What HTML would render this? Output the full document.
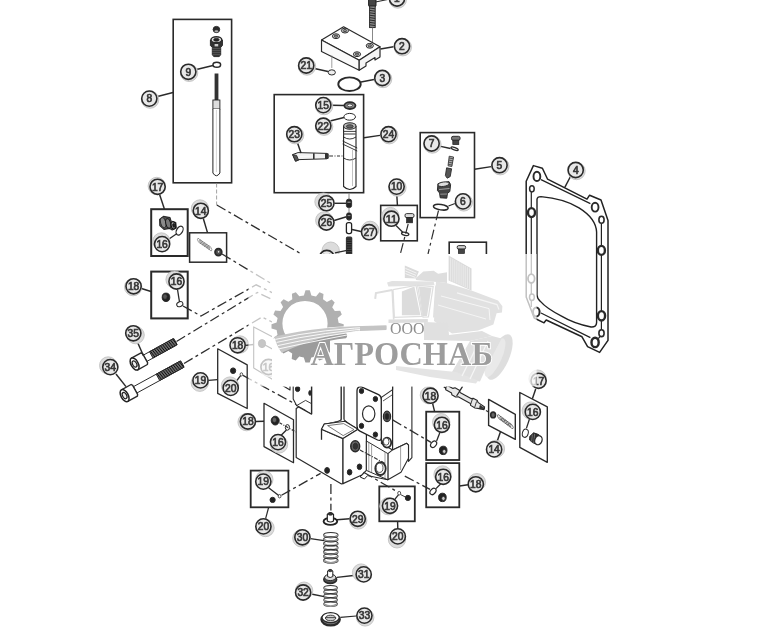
<!DOCTYPE html>
<html><head><meta charset="utf-8"><title>diagram</title>
<style>
html,body{margin:0;padding:0;background:#fff;}
body{width:781px;height:641px;overflow:hidden;font-family:"Liberation Sans",sans-serif;}
svg{display:block;}
text{font-family:"Liberation Sans",sans-serif;}
.wm{font-family:"Liberation Serif",serif;}
</style></head><body>
<svg width="781" height="641" viewBox="0 0 781 641">
<defs><filter id="bl" x="-5%" y="-5%" width="110%" height="110%"><feGaussianBlur stdDeviation="0.45"/></filter></defs>
<rect width="781" height="641" fill="#fff"/>
<g filter="url(#bl)">
<rect x="368.6" y="-2" width="7.4" height="8.4" rx="1" fill="#444" stroke="#222" stroke-width="1"/>
<rect x="369.6" y="6" width="5.6" height="21.6" fill="#888" stroke="#222" stroke-width="0.9"/>
<line x1="369.6" y1="8.0" x2="375.2" y2="8.8" stroke="#2a2a2a" stroke-width="1.0" />
<line x1="369.6" y1="10.4" x2="375.2" y2="11.2" stroke="#2a2a2a" stroke-width="1.0" />
<line x1="369.6" y1="12.8" x2="375.2" y2="13.6" stroke="#2a2a2a" stroke-width="1.0" />
<line x1="369.6" y1="15.2" x2="375.2" y2="16.0" stroke="#2a2a2a" stroke-width="1.0" />
<line x1="369.6" y1="17.6" x2="375.2" y2="18.4" stroke="#2a2a2a" stroke-width="1.0" />
<line x1="369.6" y1="20.0" x2="375.2" y2="20.8" stroke="#2a2a2a" stroke-width="1.0" />
<line x1="369.6" y1="22.4" x2="375.2" y2="23.2" stroke="#2a2a2a" stroke-width="1.0" />
<line x1="369.6" y1="24.8" x2="375.2" y2="25.6" stroke="#2a2a2a" stroke-width="1.0" />
<line x1="375.5" y1="2.0" x2="390.0" y2="-1.0" stroke="#2a2a2a" stroke-width="1.1" />
<line x1="372.5" y1="27.0" x2="372.5" y2="44.0" stroke="#555" stroke-width="0.7" />
<g><circle cx="397.8" cy="-0.5" r="8.7" fill="#dcdcdc" stroke="#bdbdbd" stroke-width="0.8"/><circle cx="397.0" cy="-1.5" r="7.6" fill="#e8e8e8" stroke="#2b2b2b" stroke-width="1.6"/><text x="394.1" y="2.3" font-size="10.6" fill="#383838" stroke="#383838" stroke-width="0.7" textLength="5.7" lengthAdjust="spacingAndGlyphs">1</text></g>
<path d="M321.5,40.0 L343.6,26.8 L380.0,46.8 L359.2,60.2 Z" fill="#fff" stroke="#2a2a2a" stroke-width="1.2" stroke-linejoin="round" />
<path d="M321.5,40.0 L359.2,60.2 L359.2,70.2 L321.5,51.5 Z" fill="#fafafa" stroke="#2a2a2a" stroke-width="1.2" stroke-linejoin="round" />
<path d="M359.2,60.2 L380.0,46.8 L380.0,57.0 L375.0,60.0 L375.0,57.5 L366.0,63.0 L366.0,66.0 L359.2,70.2 Z" fill="#f4f4f4" stroke="#2a2a2a" stroke-width="1.2" stroke-linejoin="round" />
<ellipse cx="336.0" cy="36.2" rx="3.6" ry="2.4" fill="#ddd" stroke="#2a2a2a" stroke-width="1.0"/>
<ellipse cx="336.0" cy="36.2" rx="1.8" ry="1.1" fill="#999" stroke="#2a2a2a" stroke-width="0.8"/>
<ellipse cx="345.0" cy="30.6" rx="3.6" ry="2.4" fill="#ddd" stroke="#2a2a2a" stroke-width="1.0"/>
<ellipse cx="345.0" cy="30.6" rx="1.8" ry="1.1" fill="#999" stroke="#2a2a2a" stroke-width="0.8"/>
<ellipse cx="369.8" cy="45.8" rx="3.6" ry="2.4" fill="#ddd" stroke="#2a2a2a" stroke-width="1.0"/>
<ellipse cx="369.8" cy="45.8" rx="1.8" ry="1.1" fill="#999" stroke="#2a2a2a" stroke-width="0.8"/>
<ellipse cx="357.0" cy="54.2" rx="3.6" ry="2.4" fill="#ddd" stroke="#2a2a2a" stroke-width="1.0"/>
<ellipse cx="357.0" cy="54.2" rx="1.8" ry="1.1" fill="#999" stroke="#2a2a2a" stroke-width="0.8"/>
<line x1="380.5" y1="49.0" x2="393.5" y2="46.8" stroke="#2a2a2a" stroke-width="1.45" />
<g><circle cx="402.8" cy="47.2" r="8.7" fill="#dcdcdc" stroke="#bdbdbd" stroke-width="0.8"/><circle cx="402.0" cy="46.2" r="7.6" fill="#e8e8e8" stroke="#2b2b2b" stroke-width="1.6"/><text x="399.1" y="50.0" font-size="10.6" fill="#383838" stroke="#383838" stroke-width="0.7" textLength="5.7" lengthAdjust="spacingAndGlyphs">2</text></g>
<line x1="331.8" y1="55.5" x2="331.8" y2="68.0" stroke="#777" stroke-width="0.7" />
<ellipse cx="331.8" cy="72.4" rx="3.6" ry="2.6" fill="#eee" stroke="#2a2a2a" stroke-width="1.0"/>
<line x1="314.5" y1="68.5" x2="328.0" y2="71.5" stroke="#2a2a2a" stroke-width="1.45" />
<g><circle cx="307.0" cy="66.5" r="8.7" fill="#dcdcdc" stroke="#bdbdbd" stroke-width="0.8"/><circle cx="306.2" cy="65.5" r="7.6" fill="#e8e8e8" stroke="#2b2b2b" stroke-width="1.6"/><text x="300.5" y="69.3" font-size="10.6" fill="#383838" stroke="#383838" stroke-width="0.7" textLength="11.4" lengthAdjust="spacingAndGlyphs">21</text></g>
<ellipse cx="349.5" cy="84.2" rx="11.2" ry="6.8" fill="none" stroke="#2a2a2a" stroke-width="1.9"/>
<line x1="361.0" y1="82.0" x2="374.0" y2="79.5" stroke="#2a2a2a" stroke-width="1.45" />
<g><circle cx="383.1" cy="79.0" r="8.7" fill="#dcdcdc" stroke="#bdbdbd" stroke-width="0.8"/><circle cx="382.3" cy="78.0" r="7.6" fill="#e8e8e8" stroke="#2b2b2b" stroke-width="1.6"/><text x="379.4" y="81.8" font-size="10.6" fill="#383838" stroke="#383838" stroke-width="0.7" textLength="5.7" lengthAdjust="spacingAndGlyphs">3</text></g>
<rect x="173.2" y="19.4" width="58.4" height="163.4" fill="none" stroke="#2a2a2a" stroke-width="1.6"/>
<ellipse cx="216.4" cy="29.5" rx="3.3" ry="3.1" fill="#2a2a2a" stroke="#2a2a2a" stroke-width="1.0"/>
<ellipse cx="216.4" cy="31.2" rx="1.8" ry="0.9" fill="#bbb" stroke="#888" stroke-width="0.5"/>
<path d="M210.4,40.0 L210.4,45.6 L212.3,47.2 L212.3,55.0 L214.0,56.6 L219.0,56.6 L220.7,55.0 L220.7,47.2 L222.4,45.6 L222.4,40.0 Z" fill="#333" stroke="#2a2a2a" stroke-width="1.0" stroke-linejoin="round" />
<ellipse cx="216.4" cy="39.8" rx="5.4" ry="3" fill="#ddd" stroke="#2a2a2a" stroke-width="1.4"/>
<ellipse cx="216.4" cy="39.8" rx="2.8" ry="1.5" fill="#222" stroke="#2a2a2a" stroke-width="0.8"/>
<rect x="214.6" y="44" width="3.6" height="2.4" fill="#ccc"/>
<line x1="212.3" y1="48.6" x2="220.7" y2="48.6" stroke="#777" stroke-width="0.5" />
<line x1="212.3" y1="50.6" x2="220.7" y2="50.6" stroke="#777" stroke-width="0.5" />
<line x1="212.3" y1="52.6" x2="220.7" y2="52.6" stroke="#777" stroke-width="0.5" />
<line x1="212.3" y1="54.6" x2="220.7" y2="54.6" stroke="#777" stroke-width="0.5" />
<ellipse cx="216.8" cy="64.7" rx="3.8" ry="2.5" fill="none" stroke="#2a2a2a" stroke-width="1.5"/>
<line x1="196.5" y1="69.5" x2="213.0" y2="65.5" stroke="#2a2a2a" stroke-width="1.45" />
<g><circle cx="189.1" cy="72.8" r="8.7" fill="#dcdcdc" stroke="#bdbdbd" stroke-width="0.8"/><circle cx="188.3" cy="71.8" r="7.6" fill="#e8e8e8" stroke="#2b2b2b" stroke-width="1.6"/><text x="185.5" y="75.6" font-size="10.6" fill="#383838" stroke="#383838" stroke-width="0.7" textLength="5.7" lengthAdjust="spacingAndGlyphs">9</text></g>
<rect x="214.6" y="73.5" width="3.8" height="27" fill="#333"/>
<rect x="212.9" y="100" width="7" height="9" fill="#ddd" stroke="#222" stroke-width="0.9"/>
<path d="M212.9,109 L212.9,173 Q216.4,178.5 219.9,173 L219.9,109" fill="#fff" stroke="#222" stroke-width="1"/>
<line x1="216.4" y1="110.0" x2="216.4" y2="172.0" stroke="#aaa" stroke-width="0.5" />
<line x1="157.5" y1="96.5" x2="173.0" y2="92.5" stroke="#2a2a2a" stroke-width="1.45" />
<g><circle cx="150.1" cy="99.6" r="8.7" fill="#dcdcdc" stroke="#bdbdbd" stroke-width="0.8"/><circle cx="149.3" cy="98.6" r="7.6" fill="#e8e8e8" stroke="#2b2b2b" stroke-width="1.6"/><text x="146.5" y="102.4" font-size="10.6" fill="#383838" stroke="#383838" stroke-width="0.7" textLength="5.7" lengthAdjust="spacingAndGlyphs">8</text></g>
<rect x="274.2" y="94.6" width="89.4" height="98.1" fill="none" stroke="#2a2a2a" stroke-width="1.6"/>
<ellipse cx="349.9" cy="105.6" rx="5.6" ry="3.4" fill="#888" stroke="#2a2a2a" stroke-width="1.8"/>
<ellipse cx="349.9" cy="105.4" rx="2.6" ry="1.5" fill="#eee" stroke="#2a2a2a" stroke-width="0.8"/>
<line x1="331.5" y1="105.2" x2="344.0" y2="105.5" stroke="#2a2a2a" stroke-width="1.45" />
<g><circle cx="324.1" cy="106.1" r="8.7" fill="#dcdcdc" stroke="#bdbdbd" stroke-width="0.8"/><circle cx="323.3" cy="105.1" r="7.6" fill="#e8e8e8" stroke="#2b2b2b" stroke-width="1.6"/><text x="317.6" y="108.9" font-size="10.6" fill="#383838" stroke="#383838" stroke-width="0.7" textLength="11.4" lengthAdjust="spacingAndGlyphs">15</text></g>
<ellipse cx="349.7" cy="116.8" rx="5.8" ry="3.4" fill="none" stroke="#2a2a2a" stroke-width="1.0"/>
<line x1="330.0" y1="121.0" x2="344.0" y2="117.5" stroke="#2a2a2a" stroke-width="1.3" />
<g><circle cx="324.1" cy="126.7" r="8.7" fill="#dcdcdc" stroke="#bdbdbd" stroke-width="0.8"/><circle cx="323.3" cy="125.7" r="7.6" fill="#e8e8e8" stroke="#2b2b2b" stroke-width="1.6"/><text x="317.6" y="129.5" font-size="10.6" fill="#383838" stroke="#383838" stroke-width="0.7" textLength="11.4" lengthAdjust="spacingAndGlyphs">22</text></g>
<path d="M343.6,126 L343.6,186.5 Q349.8,192.5 356,186.5 L356,126" fill="#fff" stroke="#222" stroke-width="1.1"/>
<ellipse cx="349.8" cy="126.0" rx="6.2" ry="3.2" fill="#bbb" stroke="#2a2a2a" stroke-width="1.1"/>
<ellipse cx="349.8" cy="126.4" rx="3.4" ry="1.7" fill="#666" stroke="#2a2a2a" stroke-width="0.8"/>
<line x1="343.6" y1="131.4" x2="356.0" y2="131.4" stroke="#2a2a2a" stroke-width="0.9" />
<line x1="343.6" y1="134.0" x2="356.0" y2="134.0" stroke="#555" stroke-width="1.2" />
<path d="M343.6,137 Q349.8,141 356,137" fill="none" stroke="#222" stroke-width="0.9"/>
<path d="M342.6,141 L357.2,148" fill="none" stroke="#222" stroke-width="0.9"/>
<path d="M342.6,144 L357.2,151" fill="none" stroke="#222" stroke-width="0.9"/>
<path d="M343.6,158 Q349.8,162 356,158" fill="none" stroke="#222" stroke-width="0.9"/>
<line x1="352.5" y1="150.0" x2="352.5" y2="186.0" stroke="#999" stroke-width="0.6" />
<line x1="364.0" y1="137.8" x2="380.0" y2="135.4" stroke="#2a2a2a" stroke-width="1.45" />
<g><circle cx="389.3" cy="135.2" r="8.7" fill="#dcdcdc" stroke="#bdbdbd" stroke-width="0.8"/><circle cx="388.5" cy="134.2" r="7.6" fill="#e8e8e8" stroke="#2b2b2b" stroke-width="1.6"/><text x="382.8" y="138.0" font-size="10.6" fill="#383838" stroke="#383838" stroke-width="0.7" textLength="11.4" lengthAdjust="spacingAndGlyphs">24</text></g>
<path d="M292.6,154.6 L298.0,152.6 L327.0,153.4 L329.4,156.0 L327.0,158.8 L299.0,159.6 L295.5,161.2 Z" fill="#f2f2f2" stroke="#2a2a2a" stroke-width="1.0" stroke-linejoin="round" />
<path d="M292.6,154.6 L296.6,155.4 L298.6,160.2 L295.5,161.2 Z" fill="#555" stroke="#2a2a2a" stroke-width="0.9" stroke-linejoin="round" />
<rect x="313" y="153.2" width="1.6" height="5.8" fill="#333"/>
<rect x="325" y="153.2" width="3.4" height="5.8" fill="#333"/>
<line x1="300.0" y1="156.5" x2="310.0" y2="156.2" stroke="#fff" stroke-width="0.6" />
<path d="M330.0,156.0 L343.0,156.0" fill="none" stroke="#333" stroke-width="1.1700000000000002" stroke-dasharray="3 1.5 1 1.5"/>
<line x1="297.2" y1="142.0" x2="301.0" y2="153.0" stroke="#2a2a2a" stroke-width="1.45" />
<g><circle cx="295.1" cy="135.2" r="8.7" fill="#dcdcdc" stroke="#bdbdbd" stroke-width="0.8"/><circle cx="294.3" cy="134.2" r="7.6" fill="#e8e8e8" stroke="#2b2b2b" stroke-width="1.6"/><text x="288.6" y="138.0" font-size="10.6" fill="#383838" stroke="#383838" stroke-width="0.7" textLength="11.4" lengthAdjust="spacingAndGlyphs">23</text></g>
<line x1="349.0" y1="193.0" x2="349.0" y2="221.0" stroke="#888" stroke-width="1.0" />
<rect x="346.4" y="199.2" width="5.2" height="8.4" rx="2" fill="#222" stroke="#222" stroke-width="0.8"/><rect x="347.4" y="201.6" width="3.2" height="1.2" fill="#999"/>
<line x1="334.5" y1="203.3" x2="346.5" y2="203.3" stroke="#2a2a2a" stroke-width="1.45" />
<g><circle cx="323.5" cy="201.7" r="8.7" fill="#dcdcdc" stroke="#bdbdbd" stroke-width="0.8"/><circle cx="326.4" cy="203.3" r="7.6" fill="#e8e8e8" stroke="#2b2b2b" stroke-width="1.6"/><text x="320.7" y="207.1" font-size="10.6" fill="#383838" stroke="#383838" stroke-width="0.7" textLength="11.4" lengthAdjust="spacingAndGlyphs">25</text></g>
<rect x="346.6" y="213" width="4.8" height="6.8" rx="1.6" fill="#2a2a2a" stroke="#222" stroke-width="0.8"/><rect x="347.6" y="215" width="2.8" height="1.1" fill="#888"/>
<line x1="334.2" y1="220.5" x2="346.5" y2="216.8" stroke="#2a2a2a" stroke-width="1.45" />
<g><circle cx="324.3" cy="220.4" r="8.7" fill="#dcdcdc" stroke="#bdbdbd" stroke-width="0.8"/><circle cx="326.4" cy="222.5" r="7.6" fill="#e8e8e8" stroke="#2b2b2b" stroke-width="1.6"/><text x="320.7" y="226.3" font-size="10.6" fill="#383838" stroke="#383838" stroke-width="0.7" textLength="11.4" lengthAdjust="spacingAndGlyphs">26</text></g>
<rect x="346.4" y="222.6" width="5.2" height="11" rx="2" fill="#fff" stroke="#222" stroke-width="1.3"/>
<line x1="352.0" y1="229.5" x2="361.0" y2="231.5" stroke="#2a2a2a" stroke-width="1.3" />
<g><circle cx="370.1" cy="229.9" r="8.7" fill="#dcdcdc" stroke="#bdbdbd" stroke-width="0.8"/><circle cx="369.1" cy="232.2" r="7.6" fill="#e8e8e8" stroke="#2b2b2b" stroke-width="1.6"/><text x="363.4" y="236.0" font-size="10.6" fill="#383838" stroke="#383838" stroke-width="0.7" textLength="11.4" lengthAdjust="spacingAndGlyphs">27</text></g>
<rect x="346.4" y="237" width="5.4" height="18" rx="1" fill="#444" stroke="#222" stroke-width="0.9"/>
<line x1="346.8" y1="239.0" x2="351.6" y2="239.0" stroke="#111" stroke-width="0.8" />
<line x1="346.8" y1="241.3" x2="351.6" y2="241.3" stroke="#111" stroke-width="0.8" />
<line x1="346.8" y1="243.6" x2="351.6" y2="243.6" stroke="#111" stroke-width="0.8" />
<line x1="346.8" y1="245.9" x2="351.6" y2="245.9" stroke="#111" stroke-width="0.8" />
<line x1="346.8" y1="248.2" x2="351.6" y2="248.2" stroke="#111" stroke-width="0.8" />
<line x1="346.8" y1="250.5" x2="351.6" y2="250.5" stroke="#111" stroke-width="0.8" />
<line x1="346.8" y1="252.8" x2="351.6" y2="252.8" stroke="#111" stroke-width="0.8" />
<g><circle cx="330.7" cy="250.7" r="8.7" fill="#dcdcdc" stroke="#bdbdbd" stroke-width="0.8"/><circle cx="326.8" cy="258.0" r="7.6" fill="#e8e8e8" stroke="#2b2b2b" stroke-width="1.6"/><text x="321.1" y="261.8" font-size="10.6" fill="#383838" stroke="#383838" stroke-width="0.7" textLength="11.4" lengthAdjust="spacingAndGlyphs">28</text></g>
<line x1="335.0" y1="252.8" x2="347.0" y2="250.4" stroke="#2a2a2a" stroke-width="1.3" />
<rect x="420.2" y="132.6" width="54.3" height="85.0" fill="none" stroke="#2a2a2a" stroke-width="1.6"/>
<rect x="451.5" y="136.3" width="8.6" height="4" rx="1.6" fill="#777" stroke="#222" stroke-width="0.9"/>
<rect x="452.8" y="140.2" width="6" height="4.4" fill="#444" stroke="#222" stroke-width="0.7"/>
<ellipse cx="454.6" cy="148.7" rx="3.8" ry="1.2" fill="none" stroke="#2a2a2a" stroke-width="1.3" transform="rotate(20 454.6 148.7)"/>
<line x1="439.5" y1="146.2" x2="450.5" y2="148.5" stroke="#2a2a2a" stroke-width="1.3" />
<g><circle cx="432.4" cy="144.5" r="8.7" fill="#dcdcdc" stroke="#bdbdbd" stroke-width="0.8"/><circle cx="431.6" cy="143.5" r="7.6" fill="#e8e8e8" stroke="#2b2b2b" stroke-width="1.6"/><text x="428.8" y="147.3" font-size="10.6" fill="#383838" stroke="#383838" stroke-width="0.7" textLength="5.7" lengthAdjust="spacingAndGlyphs">7</text></g>
<path d="M449.2,156.2 L453.6,157.0 L451.8,166.6 L448.0,165.8 Z" fill="#aaa" stroke="#2a2a2a" stroke-width="0.8" stroke-linejoin="round" />
<line x1="449.2" y1="158.0" x2="453.3" y2="158.8" stroke="#2a2a2a" stroke-width="0.7" />
<line x1="448.9" y1="160.1" x2="453.0" y2="160.9" stroke="#2a2a2a" stroke-width="0.7" />
<line x1="448.6" y1="162.2" x2="452.7" y2="163.0" stroke="#2a2a2a" stroke-width="0.7" />
<line x1="448.3" y1="164.3" x2="452.4" y2="165.1" stroke="#2a2a2a" stroke-width="0.7" />
<path d="M446.6,167.8 L451.6,168.8 L450.2,176.6 L447.2,178.2 L445.4,175.6 Z" fill="#555" stroke="#2a2a2a" stroke-width="0.9" stroke-linejoin="round" />
<path d="M438.0,183.6 L449.0,181.6 L450.6,184.6 L449.8,191.6 L447.4,193.4 L446.8,198.2 L440.2,197.8 L439.6,193.0 L437.4,190.4 Z" fill="#444" stroke="#2a2a2a" stroke-width="1.0" stroke-linejoin="round" />
<ellipse cx="443.5" cy="184.2" rx="5.6" ry="2.2" fill="#ddd" stroke="#2a2a2a" stroke-width="0.9" transform="rotate(-8 443.5 184.2)"/>
<line x1="439.0" y1="189.5" x2="449.5" y2="188.5" stroke="#ddd" stroke-width="0.6" />
<line x1="440.2" y1="194.2" x2="447.0" y2="194.0" stroke="#ccc" stroke-width="0.6" />
<ellipse cx="440.8" cy="207.2" rx="7.4" ry="2.7" fill="#fff" stroke="#2a2a2a" stroke-width="1.5" transform="rotate(8 440.8 207.2)"/>
<line x1="448.5" y1="206.0" x2="455.0" y2="203.5" stroke="#2a2a2a" stroke-width="1.3" />
<g><circle cx="463.8" cy="202.4" r="8.7" fill="#dcdcdc" stroke="#bdbdbd" stroke-width="0.8"/><circle cx="463.0" cy="201.4" r="7.6" fill="#e8e8e8" stroke="#2b2b2b" stroke-width="1.6"/><text x="460.1" y="205.2" font-size="10.6" fill="#383838" stroke="#383838" stroke-width="0.7" textLength="5.7" lengthAdjust="spacingAndGlyphs">6</text></g>
<line x1="474.5" y1="169.2" x2="491.3" y2="166.6" stroke="#2a2a2a" stroke-width="1.45" />
<g><circle cx="500.3" cy="166.2" r="8.7" fill="#dcdcdc" stroke="#bdbdbd" stroke-width="0.8"/><circle cx="499.5" cy="165.2" r="7.6" fill="#e8e8e8" stroke="#2b2b2b" stroke-width="1.6"/><text x="496.6" y="169.0" font-size="10.6" fill="#383838" stroke="#383838" stroke-width="0.7" textLength="5.7" lengthAdjust="spacingAndGlyphs">5</text></g>
<line x1="396.8" y1="194.5" x2="397.4" y2="205.3" stroke="#2a2a2a" stroke-width="1.45" />
<g><circle cx="397.4" cy="187.6" r="8.7" fill="#dcdcdc" stroke="#bdbdbd" stroke-width="0.8"/><circle cx="396.6" cy="186.6" r="7.6" fill="#e8e8e8" stroke="#2b2b2b" stroke-width="1.6"/><text x="390.9" y="190.4" font-size="10.6" fill="#383838" stroke="#383838" stroke-width="0.7" textLength="11.4" lengthAdjust="spacingAndGlyphs">10</text></g>
<rect x="380.7" y="205.4" width="36.6" height="35.4" fill="none" stroke="#2a2a2a" stroke-width="1.6"/>
<rect x="405" y="213.6" width="9" height="4" rx="1.6" fill="#ddd" stroke="#222" stroke-width="0.9"/>
<rect x="406.6" y="217.4" width="6" height="5.4" fill="#333" stroke="#222" stroke-width="0.7"/>
<ellipse cx="405.2" cy="233.9" rx="3.7" ry="1.5" fill="none" stroke="#2a2a2a" stroke-width="1.3" transform="rotate(12 405.2 233.9)"/>
<line x1="396.0" y1="225.5" x2="403.0" y2="232.5" stroke="#2a2a2a" stroke-width="1.3" />
<g><circle cx="390.4" cy="216.1" r="8.7" fill="#dcdcdc" stroke="#bdbdbd" stroke-width="0.8"/><circle cx="391.4" cy="218.7" r="7.6" fill="#e8e8e8" stroke="#2b2b2b" stroke-width="1.6"/><text x="385.7" y="222.5" font-size="10.6" fill="#383838" stroke="#383838" stroke-width="0.7" textLength="11.4" lengthAdjust="spacingAndGlyphs">11</text></g>
<path d="M408.2,224.0 L400.3,254.0" fill="none" stroke="#2e2e2e" stroke-width="1.1700000000000002" stroke-dasharray="10 3.4 3 3.4"/>
<path d="M438.5,210.5 L428.0,254.0" fill="none" stroke="#2e2e2e" stroke-width="1.1700000000000002" stroke-dasharray="10 3.4 3 3.4"/>
<rect x="449.2" y="242.2" width="37.2" height="19.8" fill="none" stroke="#2a2a2a" stroke-width="1.6"/>
<rect x="457.2" y="245.6" width="8.4" height="3.6" rx="1.5" fill="#ccc" stroke="#222" stroke-width="0.9"/>
<rect x="458.4" y="249" width="6" height="4.4" fill="#444" stroke="#222" stroke-width="0.7"/>
<path d="M533.4,165.6 L542.4,168.2 L547.6,179.2 L587,199.2 L589.6,195.2 L601,200 L608,220.5 L608,340.4 L599.6,352.4 L587.6,346.6 L582,336.8 L546.2,320 L544,322.8 L534.2,318 L526.2,297 L526.2,181.2 Z" fill="#fff" stroke="#222" stroke-width="1.5" stroke-linejoin="round"/>
<path d="M531.3,192 L531.3,307 M541,179.6 L590.4,203.6 M601.4,223.5 L601.4,311 M601.4,320.6 L601.4,330 M541,313 L590.4,337.6 M598.4,338.6 L600,336.4" fill="none" stroke="#222" stroke-width="1.2"/>
<path d="M537,199.4 Q537.2,196.6 541,196.6 Q564,198.6 579,207.8 Q596,218.4 596.6,232 L596.6,322.6 Q596.4,327.4 591,327 Q574,323.6 562,316.4 Q546.4,308.4 540.4,301.4 Q537,298.4 537,295 Z" fill="#fff" stroke="#222" stroke-width="1.4"/>
<ellipse cx="536.9" cy="176.4" rx="3.4" ry="4.6" fill="#fff" stroke="#2a2a2a" stroke-width="1.9"/>
<ellipse cx="531.9" cy="188.8" rx="2.3" ry="3.1" fill="#fff" stroke="#2a2a2a" stroke-width="1.5"/>
<ellipse cx="531.5" cy="212.6" rx="3.5" ry="4.5" fill="#fff" stroke="#2a2a2a" stroke-width="2.4"/>
<ellipse cx="595.1" cy="207.2" rx="3.4" ry="4.4" fill="#fff" stroke="#2a2a2a" stroke-width="1.9"/>
<ellipse cx="601.5" cy="219.8" rx="2.6" ry="3.5" fill="#fff" stroke="#2a2a2a" stroke-width="1.6"/>
<ellipse cx="601.4" cy="250.4" rx="3.5" ry="4.5" fill="#fff" stroke="#2a2a2a" stroke-width="2.4"/>
<ellipse cx="531.3" cy="278.6" rx="3.3" ry="4.4" fill="#fff" stroke="#2a2a2a" stroke-width="1.8"/>
<ellipse cx="531.9" cy="297.2" rx="2.4" ry="3.2" fill="#fff" stroke="#2a2a2a" stroke-width="1.5"/>
<ellipse cx="536.3" cy="312.0" rx="3.3" ry="4.5" fill="#fff" stroke="#2a2a2a" stroke-width="2.0"/>
<ellipse cx="601.5" cy="315.8" rx="3.6" ry="4.7" fill="#fff" stroke="#2a2a2a" stroke-width="2.4"/>
<ellipse cx="601.5" cy="333.2" rx="2.6" ry="3.4" fill="#fff" stroke="#2a2a2a" stroke-width="1.6"/>
<ellipse cx="595.1" cy="342.4" rx="3.6" ry="4.7" fill="#fff" stroke="#2a2a2a" stroke-width="2.4"/>
<line x1="570.5" y1="176.5" x2="564.8" y2="187.4" stroke="#2a2a2a" stroke-width="1.45" />
<g><circle cx="576.5" cy="171.0" r="8.7" fill="#dcdcdc" stroke="#bdbdbd" stroke-width="0.8"/><circle cx="575.7" cy="170.0" r="7.6" fill="#e8e8e8" stroke="#2b2b2b" stroke-width="1.6"/><text x="572.9" y="173.8" font-size="10.6" fill="#383838" stroke="#383838" stroke-width="0.7" textLength="5.7" lengthAdjust="spacingAndGlyphs">4</text></g>
<line x1="159.6" y1="194.5" x2="164.4" y2="209.0" stroke="#2a2a2a" stroke-width="1.45" />
<g><circle cx="156.8" cy="186.0" r="8.7" fill="#dcdcdc" stroke="#bdbdbd" stroke-width="0.8"/><circle cx="157.6" cy="186.8" r="7.6" fill="#e8e8e8" stroke="#2b2b2b" stroke-width="1.6"/><text x="151.9" y="190.6" font-size="10.6" fill="#383838" stroke="#383838" stroke-width="0.7" textLength="11.4" lengthAdjust="spacingAndGlyphs">17</text></g>
<rect x="151.2" y="209.2" width="36.5" height="46.8" fill="none" stroke="#2a2a2a" stroke-width="2.0"/>
<path d="M159.6,219.4 L163.4,216.4 L170.0,217.6 L171.0,221.0 L175.8,222.6 L176.2,228.0 L172.2,230.0 L169.6,228.4 L164.0,229.4 L159.8,225.6 Z" fill="#555" stroke="#2a2a2a" stroke-width="1.1" stroke-linejoin="round" />
<ellipse cx="163.2" cy="222.6" rx="2.6" ry="5.2" fill="#8a8a8a" stroke="#2a2a2a" stroke-width="0.9" transform="rotate(-12 163.2 222.6)"/>
<ellipse cx="168.2" cy="223.4" rx="2.4" ry="5" fill="#777" stroke="#111" stroke-width="0.9" transform="rotate(-12 168.2 223.4)"/>
<ellipse cx="173.4" cy="225.4" rx="2.2" ry="3.6" fill="#aaa" stroke="#111" stroke-width="1.0" transform="rotate(-12 173.4 225.4)"/>
<ellipse cx="173.8" cy="225.5" rx="1.1" ry="2" fill="#222" stroke="#111" stroke-width="0.6" transform="rotate(-12 173.8 225.5)"/>
<ellipse cx="179.6" cy="230.6" rx="3.0" ry="4.8" fill="none" stroke="#2a2a2a" stroke-width="1.2" transform="rotate(30 179.6 230.6)"/>
<line x1="169.0" y1="239.0" x2="177.0" y2="233.5" stroke="#2a2a2a" stroke-width="1.3" />
<g><circle cx="161.4" cy="241.5" r="8.7" fill="#dcdcdc" stroke="#bdbdbd" stroke-width="0.8"/><circle cx="162.1" cy="244.1" r="7.6" fill="#e8e8e8" stroke="#2b2b2b" stroke-width="1.6"/><text x="156.4" y="247.9" font-size="10.6" fill="#383838" stroke="#383838" stroke-width="0.7" textLength="11.4" lengthAdjust="spacingAndGlyphs">16</text></g>
<line x1="203.3" y1="218.5" x2="207.5" y2="232.6" stroke="#2a2a2a" stroke-width="1.45" />
<g><circle cx="200.0" cy="208.5" r="8.7" fill="#dcdcdc" stroke="#bdbdbd" stroke-width="0.8"/><circle cx="200.8" cy="210.8" r="7.6" fill="#e8e8e8" stroke="#2b2b2b" stroke-width="1.6"/><text x="195.1" y="214.6" font-size="10.6" fill="#383838" stroke="#383838" stroke-width="0.7" textLength="11.4" lengthAdjust="spacingAndGlyphs">14</text></g>
<rect x="189.6" y="232.8" width="37.0" height="29.4" fill="none" stroke="#2a2a2a" stroke-width="1.5"/>
<ellipse cx="199.4" cy="241.0" rx="1.2" ry="3.0" fill="none" stroke="#666" stroke-width="0.6" transform="rotate(-32 199.4 241.0)"/>
<ellipse cx="201.5" cy="242.4" rx="1.2" ry="3.0" fill="none" stroke="#666" stroke-width="0.6" transform="rotate(-32 201.5 242.4)"/>
<ellipse cx="203.6" cy="243.9" rx="1.2" ry="3.0" fill="none" stroke="#666" stroke-width="0.6" transform="rotate(-32 203.6 243.9)"/>
<ellipse cx="205.7" cy="245.3" rx="1.2" ry="3.0" fill="none" stroke="#666" stroke-width="0.6" transform="rotate(-32 205.7 245.3)"/>
<ellipse cx="207.8" cy="246.8" rx="1.2" ry="3.0" fill="none" stroke="#666" stroke-width="0.6" transform="rotate(-32 207.8 246.8)"/>
<ellipse cx="209.9" cy="248.2" rx="1.2" ry="3.0" fill="none" stroke="#666" stroke-width="0.6" transform="rotate(-32 209.9 248.2)"/>
<ellipse cx="218.4" cy="252.1" rx="3.3" ry="3.5" fill="#555" stroke="#2a2a2a" stroke-width="1.9"/>
<ellipse cx="218.6" cy="251.8" rx="1.2" ry="1.3" fill="#ddd" stroke="#2a2a2a" stroke-width="0.6"/>
<line x1="141.5" y1="288.5" x2="151.0" y2="291.5" stroke="#2a2a2a" stroke-width="1.45" />
<g><circle cx="133.2" cy="287.1" r="8.7" fill="#dcdcdc" stroke="#bdbdbd" stroke-width="0.8"/><circle cx="133.6" cy="286.3" r="7.6" fill="#e8e8e8" stroke="#2b2b2b" stroke-width="1.6"/><text x="127.9" y="290.1" font-size="10.6" fill="#383838" stroke="#383838" stroke-width="0.7" textLength="11.4" lengthAdjust="spacingAndGlyphs">18</text></g>
<rect x="151.2" y="271.6" width="36.5" height="46.8" fill="none" stroke="#2a2a2a" stroke-width="2.0"/>
<ellipse cx="166.0" cy="297.3" rx="3.8" ry="4.2" fill="#222" stroke="#2a2a2a" stroke-width="1.0"/>
<ellipse cx="165.0" cy="296.6" rx="2.2" ry="2.6" fill="#555" stroke="#2a2a2a" stroke-width="0.6"/>
<ellipse cx="179.8" cy="304.2" rx="3.2" ry="2.4" fill="none" stroke="#2a2a2a" stroke-width="1.0" transform="rotate(-20 179.8 304.2)"/>
<line x1="177.5" y1="289.5" x2="179.5" y2="302.0" stroke="#2a2a2a" stroke-width="1.3" />
<g><circle cx="174.6" cy="279.6" r="8.7" fill="#dcdcdc" stroke="#bdbdbd" stroke-width="0.8"/><circle cx="176.5" cy="281.5" r="7.6" fill="#e8e8e8" stroke="#2b2b2b" stroke-width="1.6"/><text x="170.8" y="285.3" font-size="10.6" fill="#383838" stroke="#383838" stroke-width="0.7" textLength="11.4" lengthAdjust="spacingAndGlyphs">16</text></g>
<line x1="216.6" y1="183.5" x2="216.6" y2="205.0" stroke="#999" stroke-width="0.9" stroke-dasharray="4 2"/>
<path d="M216.8,205.0 L301.0,253.8" fill="none" stroke="#2e2e2e" stroke-width="1.3" stroke-dasharray="10 3.4 3 3.4"/>
<path d="M222.0,254.0 L272.0,284.0" fill="none" stroke="#2e2e2e" stroke-width="1.3" stroke-dasharray="10 3.4 3 3.4"/>
<path d="M183.0,306.0 L201.0,316.0 L256.2,284.8 L272.0,292.6" fill="none" stroke="#2e2e2e" stroke-width="1.3" stroke-dasharray="10 3.4 3 3.4"/>
<path d="M176.5,341.5 L257.4,292.4 L272.0,299.5" fill="none" stroke="#2e2e2e" stroke-width="1.3" stroke-dasharray="10 3.4 3 3.4"/>
<path d="M184.0,363.5 L262.0,317.0 L272.0,322.0" fill="none" stroke="#2e2e2e" stroke-width="1.3" stroke-dasharray="10 3.4 3 3.4"/>
<path d="M143.4,355.1 L173.7,338.4 L177.1,344.8 L146.9,361.4 Z" fill="#fff" stroke="#2a2a2a" stroke-width="1.0" stroke-linejoin="round" />
<path d="M149.5,351.7 L172.8,338.9 L174.2,339.5 L176.6,343.7 L176.3,345.2 L153.0,358.0 Z" fill="#6a6a6a" stroke="#2a2a2a" stroke-width="1.0" stroke-linejoin="round" />
<line x1="150.4" y1="351.2" x2="154.9" y2="357.0" stroke="#111" stroke-width="1.0" />
<line x1="152.4" y1="350.1" x2="156.9" y2="355.8" stroke="#111" stroke-width="1.0" />
<line x1="154.4" y1="349.0" x2="158.9" y2="354.7" stroke="#111" stroke-width="1.0" />
<line x1="156.4" y1="347.9" x2="161.0" y2="353.6" stroke="#111" stroke-width="1.0" />
<line x1="158.5" y1="346.8" x2="163.0" y2="352.5" stroke="#111" stroke-width="1.0" />
<line x1="160.5" y1="345.7" x2="165.0" y2="351.4" stroke="#111" stroke-width="1.0" />
<line x1="162.5" y1="344.6" x2="167.0" y2="350.3" stroke="#111" stroke-width="1.0" />
<line x1="164.5" y1="343.5" x2="169.0" y2="349.2" stroke="#111" stroke-width="1.0" />
<line x1="166.5" y1="342.4" x2="171.0" y2="348.1" stroke="#111" stroke-width="1.0" />
<line x1="168.5" y1="341.3" x2="173.1" y2="347.0" stroke="#111" stroke-width="1.0" />
<line x1="170.6" y1="340.2" x2="175.1" y2="345.9" stroke="#111" stroke-width="1.0" />
<line x1="172.6" y1="339.0" x2="177.1" y2="344.8" stroke="#111" stroke-width="1.0" />
<path d="M131.4,358.2 L141.1,352.9 L142.7,353.8 L147.6,362.7 L147.4,364.5 L137.8,369.8 Z" fill="#fff" stroke="#2a2a2a" stroke-width="1.4" stroke-linejoin="round" />
<ellipse cx="134.6" cy="364.0" rx="3.6" ry="6.6" fill="#fff" stroke="#222" stroke-width="1.5" transform="rotate(-28.8 134.6 364.0)"/>
<ellipse cx="134.6" cy="364.0" rx="2" ry="3.4" fill="#eee" stroke="#222" stroke-width="1.2" transform="rotate(-28.8 134.6 364.0)"/>
<path d="M133.4,386.7 L180.7,360.8 L184.1,367.2 L136.9,393.0 Z" fill="#fff" stroke="#2a2a2a" stroke-width="1.0" stroke-linejoin="round" />
<path d="M156.2,374.2 L179.8,361.3 L181.2,361.9 L183.6,366.1 L183.2,367.6 L159.7,380.5 Z" fill="#6a6a6a" stroke="#2a2a2a" stroke-width="1.0" stroke-linejoin="round" />
<line x1="157.1" y1="373.7" x2="161.6" y2="379.5" stroke="#111" stroke-width="1.0" />
<line x1="159.1" y1="372.6" x2="163.6" y2="378.4" stroke="#111" stroke-width="1.0" />
<line x1="161.1" y1="371.5" x2="165.6" y2="377.3" stroke="#111" stroke-width="1.0" />
<line x1="163.1" y1="370.4" x2="167.7" y2="376.2" stroke="#111" stroke-width="1.0" />
<line x1="165.2" y1="369.3" x2="169.7" y2="375.1" stroke="#111" stroke-width="1.0" />
<line x1="167.2" y1="368.2" x2="171.7" y2="374.0" stroke="#111" stroke-width="1.0" />
<line x1="169.2" y1="367.1" x2="173.7" y2="372.9" stroke="#111" stroke-width="1.0" />
<line x1="171.2" y1="366.0" x2="175.7" y2="371.8" stroke="#111" stroke-width="1.0" />
<line x1="173.2" y1="364.9" x2="177.7" y2="370.6" stroke="#111" stroke-width="1.0" />
<line x1="175.3" y1="363.8" x2="179.8" y2="369.5" stroke="#111" stroke-width="1.0" />
<line x1="177.3" y1="362.7" x2="181.8" y2="368.4" stroke="#111" stroke-width="1.0" />
<line x1="179.3" y1="361.6" x2="183.8" y2="367.3" stroke="#111" stroke-width="1.0" />
<path d="M121.4,389.8 L131.1,384.5 L132.7,385.4 L137.6,394.3 L137.4,396.1 L127.8,401.4 Z" fill="#fff" stroke="#2a2a2a" stroke-width="1.4" stroke-linejoin="round" />
<ellipse cx="124.6" cy="395.6" rx="3.6" ry="6.6" fill="#fff" stroke="#222" stroke-width="1.5" transform="rotate(-28.7 124.6 395.6)"/>
<ellipse cx="124.6" cy="395.6" rx="2" ry="3.4" fill="#eee" stroke="#222" stroke-width="1.2" transform="rotate(-28.7 124.6 395.6)"/>
<line x1="137.0" y1="341.0" x2="143.4" y2="355.8" stroke="#2a2a2a" stroke-width="1.45" />
<g><circle cx="135.6" cy="335.1" r="8.7" fill="#dcdcdc" stroke="#bdbdbd" stroke-width="0.8"/><circle cx="133.3" cy="333.3" r="7.6" fill="#e8e8e8" stroke="#2b2b2b" stroke-width="1.6"/><text x="127.6" y="337.1" font-size="10.6" fill="#383838" stroke="#383838" stroke-width="0.7" textLength="11.4" lengthAdjust="spacingAndGlyphs">35</text></g>
<line x1="116.0" y1="374.0" x2="126.0" y2="386.6" stroke="#2a2a2a" stroke-width="1.45" />
<g><circle cx="108.2" cy="365.5" r="8.7" fill="#dcdcdc" stroke="#bdbdbd" stroke-width="0.8"/><circle cx="110.3" cy="367.1" r="7.6" fill="#e8e8e8" stroke="#2b2b2b" stroke-width="1.6"/><text x="104.6" y="370.9" font-size="10.6" fill="#383838" stroke="#383838" stroke-width="0.7" textLength="11.4" lengthAdjust="spacingAndGlyphs">34</text></g>
<g><circle cx="239.9" cy="344.5" r="8.7" fill="#dcdcdc" stroke="#bdbdbd" stroke-width="0.8"/><circle cx="237.6" cy="345.3" r="7.6" fill="#e8e8e8" stroke="#2b2b2b" stroke-width="1.6"/><text x="231.9" y="349.1" font-size="10.6" fill="#383838" stroke="#383838" stroke-width="0.7" textLength="11.4" lengthAdjust="spacingAndGlyphs">18</text></g>
<line x1="245.5" y1="345.3" x2="253.5" y2="344.5" stroke="#2a2a2a" stroke-width="1.3" />
<path d="M253.7,326.9 L290.0,346.0 L290.0,390.0 L253.7,368.0 Z" fill="#fff" stroke="#2a2a2a" stroke-width="1.1" stroke-linejoin="round" />
<ellipse cx="262.0" cy="343.6" rx="3.6" ry="4" fill="#333" stroke="#2a2a2a" stroke-width="1.0"/>
<g><circle cx="269.3" cy="368.0" r="8.7" fill="#dcdcdc" stroke="#bdbdbd" stroke-width="0.8"/><circle cx="268.5" cy="367.0" r="7.6" fill="#e8e8e8" stroke="#2b2b2b" stroke-width="1.6"/><text x="262.8" y="370.8" font-size="10.6" fill="#383838" stroke="#383838" stroke-width="0.7" textLength="11.4" lengthAdjust="spacingAndGlyphs">16</text></g>
<path d="M265.0,345.0 L300.0,364.0" fill="none" stroke="#2e2e2e" stroke-width="1.3" stroke-dasharray="10 3.4 3 3.4"/>
<path d="M217.7,348.8 L247.2,364.9 L247.2,408.5 L217.7,393.4 Z" fill="#fff" stroke="#2a2a2a" stroke-width="1.3" stroke-linejoin="round" />
<ellipse cx="233.1" cy="370.7" rx="2.6" ry="2.8" fill="#222" stroke="#2a2a2a" stroke-width="1.0"/>
<ellipse cx="241.4" cy="374.4" rx="1.3" ry="1.6" fill="none" stroke="#2a2a2a" stroke-width="0.8"/>
<line x1="236.5" y1="381.0" x2="240.6" y2="375.6" stroke="#2a2a2a" stroke-width="1.3" />
<g><circle cx="230.0" cy="385.6" r="8.7" fill="#dcdcdc" stroke="#bdbdbd" stroke-width="0.8"/><circle cx="230.7" cy="387.9" r="7.6" fill="#e8e8e8" stroke="#2b2b2b" stroke-width="1.6"/><text x="225.0" y="391.7" font-size="10.6" fill="#383838" stroke="#383838" stroke-width="0.7" textLength="11.4" lengthAdjust="spacingAndGlyphs">20</text></g>
<line x1="208.5" y1="380.4" x2="217.5" y2="379.6" stroke="#2a2a2a" stroke-width="1.45" />
<g><circle cx="199.8" cy="382.7" r="8.7" fill="#dcdcdc" stroke="#bdbdbd" stroke-width="0.8"/><circle cx="200.5" cy="380.4" r="7.6" fill="#e8e8e8" stroke="#2b2b2b" stroke-width="1.6"/><text x="194.8" y="384.2" font-size="10.6" fill="#383838" stroke="#383838" stroke-width="0.7" textLength="11.4" lengthAdjust="spacingAndGlyphs">19</text></g>
<path d="M243.0,375.4 L296.0,404.4" fill="none" stroke="#2e2e2e" stroke-width="1.3" stroke-dasharray="10 3.4 3 3.4"/>
<path d="M264.0,403.3 L293.5,419.8 L293.5,462.7 L264.0,446.6 Z" fill="#fff" stroke="#2a2a2a" stroke-width="1.3" stroke-linejoin="round" />
<ellipse cx="275.2" cy="420.6" rx="4" ry="4.4" fill="#222" stroke="#2a2a2a" stroke-width="1.0"/>
<ellipse cx="274.4" cy="419.8" rx="2.2" ry="2.6" fill="#666" stroke="#2a2a2a" stroke-width="0.6"/>
<ellipse cx="287.4" cy="427.4" rx="2.1" ry="2.8" fill="none" stroke="#2a2a2a" stroke-width="1.0"/>
<path d="M279.5,422.8 L296.0,432.0" fill="none" stroke="#333" stroke-width="1.1700000000000002" stroke-dasharray="3 1.5 1 1.5"/>
<line x1="281.4" y1="435.0" x2="286.4" y2="430.0" stroke="#2a2a2a" stroke-width="1.3" />
<g><circle cx="279.0" cy="444.4" r="8.7" fill="#dcdcdc" stroke="#bdbdbd" stroke-width="0.8"/><circle cx="278.0" cy="442.1" r="7.6" fill="#e8e8e8" stroke="#2b2b2b" stroke-width="1.6"/><text x="272.3" y="445.9" font-size="10.6" fill="#383838" stroke="#383838" stroke-width="0.7" textLength="11.4" lengthAdjust="spacingAndGlyphs">16</text></g>
<line x1="255.8" y1="421.5" x2="264.0" y2="421.2" stroke="#2a2a2a" stroke-width="1.45" />
<g><circle cx="246.6" cy="422.1" r="8.7" fill="#dcdcdc" stroke="#bdbdbd" stroke-width="0.8"/><circle cx="247.9" cy="421.5" r="7.6" fill="#e8e8e8" stroke="#2b2b2b" stroke-width="1.6"/><text x="242.2" y="425.3" font-size="10.6" fill="#383838" stroke="#383838" stroke-width="0.7" textLength="11.4" lengthAdjust="spacingAndGlyphs">18</text></g>
<rect x="250.7" y="470.6" width="37.7" height="36.7" fill="none" stroke="#2a2a2a" stroke-width="1.8"/>
<ellipse cx="272.6" cy="499.9" rx="2.6" ry="2.6" fill="#222" stroke="#2a2a2a" stroke-width="1.0"/>
<ellipse cx="279.6" cy="496.2" rx="1.4" ry="1.7" fill="none" stroke="#2a2a2a" stroke-width="0.8"/>
<line x1="268.6" y1="487.8" x2="278.4" y2="495.2" stroke="#2a2a2a" stroke-width="1.3" />
<g><circle cx="264.3" cy="479.5" r="8.7" fill="#dcdcdc" stroke="#bdbdbd" stroke-width="0.8"/><circle cx="263.3" cy="481.6" r="7.6" fill="#e8e8e8" stroke="#2b2b2b" stroke-width="1.6"/><text x="257.6" y="485.4" font-size="10.6" fill="#383838" stroke="#383838" stroke-width="0.7" textLength="11.4" lengthAdjust="spacingAndGlyphs">19</text></g>
<line x1="268.6" y1="507.5" x2="265.6" y2="518.6" stroke="#2a2a2a" stroke-width="1.2" />
<g><circle cx="265.5" cy="528.0" r="8.7" fill="#dcdcdc" stroke="#bdbdbd" stroke-width="0.8"/><circle cx="263.4" cy="526.4" r="7.6" fill="#e8e8e8" stroke="#2b2b2b" stroke-width="1.6"/><text x="257.7" y="530.2" font-size="10.6" fill="#383838" stroke="#383838" stroke-width="0.7" textLength="11.4" lengthAdjust="spacingAndGlyphs">20</text></g>
<path d="M281.5,495.2 L320.6,473.4" fill="none" stroke="#2e2e2e" stroke-width="1.3" stroke-dasharray="10 3.4 3 3.4"/>
<path d="M293.2,380.0 L311.8,380.0 L311.8,414.4 L305.6,410.6 L296.6,405.6 L293.2,399.0 Z" fill="#fff" stroke="#2a2a2a" stroke-width="1.1" stroke-linejoin="round" />
<ellipse cx="297.6" cy="389.0" rx="2.2" ry="2.6" fill="#222" stroke="#2a2a2a" stroke-width="1.0"/>
<ellipse cx="310.0" cy="393.0" rx="1.2" ry="2.4" fill="#222" stroke="#2a2a2a" stroke-width="1.0"/>
<line x1="296.6" y1="405.6" x2="305.6" y2="400.4" stroke="#2a2a2a" stroke-width="0.9" />
<line x1="305.6" y1="400.4" x2="311.8" y2="403.8" stroke="#2a2a2a" stroke-width="0.9" />
<path d="M296.2,408.6 L298.6,407.0 L311.6,414.2 L341.2,380.0 L341.2,420.0 L324.3,424.0 L321.5,429.3 L343.0,438.6 L343.0,483.6 L341.1,483.8 L296.2,457.6 Z" fill="#fff" stroke="#2a2a2a" stroke-width="1.2" stroke-linejoin="round" />
<path d="M311.8,380.0 L341.2,380.0 L341.2,420.0 L324.3,424.0 L321.5,429.3 L311.8,425.0 Z" fill="#fff" stroke="none" stroke-width="0" stroke-linejoin="round" />
<line x1="311.6" y1="414.2" x2="311.6" y2="380.0" stroke="#2a2a2a" stroke-width="1.45" />
<line x1="321.5" y1="429.3" x2="321.5" y2="439.8" stroke="#2a2a2a" stroke-width="1.3" />
<line x1="341.1" y1="380.0" x2="341.1" y2="419.0" stroke="#2a2a2a" stroke-width="1.2" />
<line x1="344.0" y1="380.0" x2="344.0" y2="419.4" stroke="#2a2a2a" stroke-width="1.3" />
<path d="M341.1,419 Q340.6,422.4 324.3,424 L321.5,429.3" fill="none" stroke="#222" stroke-width="1.1"/>
<path d="M344,419.4 Q345,421.6 358,429.3" fill="none" stroke="#222" stroke-width="1.1"/>
<path d="M324.3,424.0 L344.9,421.2 L358.0,429.3 L343.0,438.6 L321.5,429.3 Z" fill="#fff" stroke="#2a2a2a" stroke-width="1.1" stroke-linejoin="round" />
<path d="M327.6,425.6 L343.6,423.6 L354.0,429.6 L343.2,435.6 Z" fill="#fff" stroke="#555" stroke-width="0.8" stroke-linejoin="round" />
<path d="M343.0,438.6 L358.0,429.3 L366.4,433.6 L366.4,470.4 L361.8,475.0 L343.0,483.6 Z" fill="#fff" stroke="#2a2a2a" stroke-width="1.2" stroke-linejoin="round" />
<ellipse cx="355.2" cy="446.2" rx="4.4" ry="5.4" fill="#666" stroke="#2a2a2a" stroke-width="1.6"/>
<ellipse cx="355.4" cy="446.2" rx="2.2" ry="3" fill="#333" stroke="#2a2a2a" stroke-width="0.8"/>
<ellipse cx="359.5" cy="466.8" rx="2.3" ry="2.8" fill="#222" stroke="#2a2a2a" stroke-width="1.0"/>
<ellipse cx="349.6" cy="472.2" rx="2.3" ry="2.8" fill="#222" stroke="#2a2a2a" stroke-width="1.0"/>
<ellipse cx="327.1" cy="470.4" rx="2.4" ry="2.9" fill="#222" stroke="#2a2a2a" stroke-width="1.0"/>
<path d="M357,391 Q357,386.6 361,386.6 L378.6,394.7 Q381.4,396 381.4,400 L381.4,437 Q381.4,441.4 377.6,440 L359.9,431.1 Q357,429.6 357,426 Z" fill="#fff" stroke="#222" stroke-width="1.3"/>
<ellipse cx="368.7" cy="413.7" rx="6.2" ry="7.9" fill="none" stroke="#2a2a2a" stroke-width="1.2"/>
<ellipse cx="361.5" cy="391.0" rx="2.2" ry="2.6" fill="#222" stroke="#2a2a2a" stroke-width="1.0"/>
<ellipse cx="375.4" cy="399.0" rx="2.2" ry="2.6" fill="#222" stroke="#2a2a2a" stroke-width="1.0"/>
<ellipse cx="361.5" cy="425.9" rx="2.2" ry="2.6" fill="#222" stroke="#2a2a2a" stroke-width="1.0"/>
<ellipse cx="375.4" cy="434.6" rx="2.2" ry="2.6" fill="#222" stroke="#2a2a2a" stroke-width="1.0"/>
<path d="M381.4,397.4 L392.6,389.6 L392.6,380.0 L411.9,380.0 L411.9,457.6 L408.5,461.4 L408.5,445.2 L406.7,443.3 L392.6,449.9 L381.4,443.4 Z" fill="#fff" stroke="#2a2a2a" stroke-width="1.1" stroke-linejoin="round" />
<line x1="392.6" y1="380.0" x2="392.6" y2="449.9" stroke="#2a2a2a" stroke-width="1.2" />
<line x1="383.0" y1="401.0" x2="392.6" y2="394.6" stroke="#2a2a2a" stroke-width="0.8" />
<ellipse cx="387.0" cy="416.4" rx="3.6" ry="5.2" fill="#555" stroke="#2a2a2a" stroke-width="1.2"/>
<ellipse cx="387.0" cy="416.4" rx="1.8" ry="3" fill="#222" stroke="#2a2a2a" stroke-width="0.8"/>
<ellipse cx="387.0" cy="442.6" rx="4.2" ry="5" fill="#fff" stroke="#2a2a2a" stroke-width="1.8"/>
<ellipse cx="386.2" cy="441.6" rx="2.8" ry="3.6" fill="#fff" stroke="#444" stroke-width="0.9"/>
<path d="M392.6,449.9 L406.7,443.3 L408.5,445.2 L408.5,458.3 L401.0,472.3 L387.9,479.8 L387.9,453.6 Z" fill="#fff" stroke="#2a2a2a" stroke-width="1.1" stroke-linejoin="round" />
<line x1="400.6" y1="447.0" x2="400.6" y2="470.0" stroke="#777" stroke-width="0.7" />
<path d="M366.4,441.0 L387.9,453.6 L387.9,479.8 L366.4,470.4 Z" fill="#fff" stroke="#2a2a2a" stroke-width="1.0" stroke-linejoin="round" />
<line x1="368.8" y1="443.0" x2="368.8" y2="471.0" stroke="#777" stroke-width="0.7" />
<line x1="371.6" y1="444.6" x2="371.6" y2="472.0" stroke="#777" stroke-width="0.7" />
<line x1="385.0" y1="452.0" x2="385.0" y2="478.0" stroke="#777" stroke-width="0.7" />
<ellipse cx="380.5" cy="468.6" rx="5.2" ry="6.4" fill="#fff" stroke="#2a2a2a" stroke-width="1.8"/>
<ellipse cx="379.6" cy="467.8" rx="3.4" ry="4.6" fill="#fff" stroke="#444" stroke-width="0.9"/>
<path d="M361.8,475.0 L360.2,477.0 L364.4,479.0 L367.6,475.6 L387.9,479.8" fill="none" stroke="#222" stroke-width="1.0" stroke-linejoin="round" />
<path d="M360.0,450.0 L386.0,464.0" fill="none" stroke="#333" stroke-width="1.1700000000000002" stroke-dasharray="4 1.5 1 1.5"/>
<path d="M392.6,419.9 L431.0,442.4" fill="none" stroke="#2e2e2e" stroke-width="1.3" stroke-dasharray="10 3.4 3 3.4"/>
<path d="M404.8,476.1 L430.0,489.4" fill="none" stroke="#2e2e2e" stroke-width="1.3" stroke-dasharray="10 3.4 3 3.4"/>
<path d="M363.6,472.3 L397.0,491.6" fill="none" stroke="#2e2e2e" stroke-width="1.3" stroke-dasharray="10 3.4 3 3.4"/>
<path d="M330.9,484.0 L330.9,510.6" fill="none" stroke="#2e2e2e" stroke-width="1.3" stroke-dasharray="10 3.4 3 3.4"/>
<line x1="432.6" y1="403.4" x2="434.6" y2="411.6" stroke="#2a2a2a" stroke-width="1.45" />
<g><circle cx="428.9" cy="395.2" r="8.7" fill="#dcdcdc" stroke="#bdbdbd" stroke-width="0.8"/><circle cx="430.5" cy="395.7" r="7.6" fill="#e8e8e8" stroke="#2b2b2b" stroke-width="1.6"/><text x="424.8" y="399.5" font-size="10.6" fill="#383838" stroke="#383838" stroke-width="0.7" textLength="11.4" lengthAdjust="spacingAndGlyphs">18</text></g>
<rect x="426.2" y="411.7" width="33.1" height="48.3" fill="none" stroke="#2a2a2a" stroke-width="1.8"/>
<ellipse cx="433.6" cy="444.3" rx="2.5" ry="3.6" fill="none" stroke="#2a2a2a" stroke-width="1.2" transform="rotate(40 433.6 444.3)"/>
<line x1="436.6" y1="441.0" x2="440.0" y2="432.2" stroke="#2a2a2a" stroke-width="1.3" />
<g><circle cx="441.2" cy="422.2" r="8.7" fill="#dcdcdc" stroke="#bdbdbd" stroke-width="0.8"/><circle cx="441.9" cy="424.8" r="7.6" fill="#e8e8e8" stroke="#2b2b2b" stroke-width="1.6"/><text x="436.2" y="428.6" font-size="10.6" fill="#383838" stroke="#383838" stroke-width="0.7" textLength="11.4" lengthAdjust="spacingAndGlyphs">16</text></g>
<ellipse cx="443.2" cy="450.4" rx="3.8" ry="4.2" fill="#222" stroke="#2a2a2a" stroke-width="1.0"/>
<ellipse cx="444.2" cy="451.4" rx="1.7" ry="2" fill="#ccc" stroke="#2a2a2a" stroke-width="0.7"/>
<rect x="426.2" y="463.1" width="33.1" height="44.2" fill="none" stroke="#2a2a2a" stroke-width="1.8"/>
<ellipse cx="433.0" cy="491.4" rx="2.5" ry="3.6" fill="none" stroke="#2a2a2a" stroke-width="1.2" transform="rotate(40 433.0 491.4)"/>
<line x1="436.0" y1="488.6" x2="440.6" y2="484.0" stroke="#2a2a2a" stroke-width="1.3" />
<g><circle cx="442.6" cy="474.5" r="8.7" fill="#dcdcdc" stroke="#bdbdbd" stroke-width="0.8"/><circle cx="443.2" cy="476.8" r="7.6" fill="#e8e8e8" stroke="#2b2b2b" stroke-width="1.6"/><text x="437.5" y="480.6" font-size="10.6" fill="#383838" stroke="#383838" stroke-width="0.7" textLength="11.4" lengthAdjust="spacingAndGlyphs">16</text></g>
<ellipse cx="442.4" cy="497.4" rx="3.8" ry="4.2" fill="#222" stroke="#2a2a2a" stroke-width="1.0"/>
<ellipse cx="443.4" cy="498.4" rx="1.7" ry="2" fill="#ccc" stroke="#2a2a2a" stroke-width="0.7"/>
<line x1="459.5" y1="486.0" x2="468.0" y2="484.8" stroke="#2a2a2a" stroke-width="1.45" />
<g><circle cx="476.8" cy="482.2" r="8.7" fill="#dcdcdc" stroke="#bdbdbd" stroke-width="0.8"/><circle cx="475.8" cy="484.3" r="7.6" fill="#e8e8e8" stroke="#2b2b2b" stroke-width="1.6"/><text x="470.1" y="488.1" font-size="10.6" fill="#383838" stroke="#383838" stroke-width="0.7" textLength="11.4" lengthAdjust="spacingAndGlyphs">18</text></g>
<rect x="379.3" y="486.4" width="35.5" height="34.9" fill="none" stroke="#2a2a2a" stroke-width="1.8"/>
<ellipse cx="407.9" cy="497.9" rx="2.6" ry="2.6" fill="#222" stroke="#2a2a2a" stroke-width="1.0"/>
<ellipse cx="399.2" cy="493.2" rx="1.5" ry="1.8" fill="none" stroke="#2a2a2a" stroke-width="0.8"/>
<line x1="400.6" y1="494.6" x2="405.4" y2="497.0" stroke="#2a2a2a" stroke-width="0.9" />
<line x1="394.6" y1="499.6" x2="398.4" y2="494.8" stroke="#2a2a2a" stroke-width="1.3" />
<g><circle cx="388.4" cy="506.2" r="8.7" fill="#dcdcdc" stroke="#bdbdbd" stroke-width="0.8"/><circle cx="390.0" cy="505.8" r="7.6" fill="#e8e8e8" stroke="#2b2b2b" stroke-width="1.6"/><text x="384.3" y="509.6" font-size="10.6" fill="#383838" stroke="#383838" stroke-width="0.7" textLength="11.4" lengthAdjust="spacingAndGlyphs">19</text></g>
<line x1="397.6" y1="521.5" x2="397.8" y2="528.6" stroke="#2a2a2a" stroke-width="1.4" />
<g><circle cx="397.0" cy="539.3" r="8.7" fill="#dcdcdc" stroke="#bdbdbd" stroke-width="0.8"/><circle cx="397.8" cy="536.4" r="7.6" fill="#e8e8e8" stroke="#2b2b2b" stroke-width="1.6"/><text x="392.1" y="540.2" font-size="10.6" fill="#383838" stroke="#383838" stroke-width="0.7" textLength="11.4" lengthAdjust="spacingAndGlyphs">20</text></g>
<path d="M445.4,387.6 L447.4,385.6 L453.0,388.4 L455.0,387.8 L459.4,390.2 L460.0,392.4 L471.0,398.6 L473.6,398.4 L477.4,400.6 L478.0,402.4 L484.6,407.0 L484.0,409.6 L479.4,408.6 L475.0,408.0 L470.6,405.4 L470.4,403.6 L458.2,396.8 L455.6,397.0 L451.8,394.8 L451.6,393.0 L445.8,389.8 Z" fill="#e8e8e8" stroke="#2a2a2a" stroke-width="1.1" stroke-linejoin="round" />
<line x1="462.6" y1="386.4" x2="456.6" y2="396.0" stroke="#2a2a2a" stroke-width="1.3" />
<line x1="472.4" y1="399.0" x2="470.6" y2="404.6" stroke="#2a2a2a" stroke-width="0.9" />
<line x1="476.6" y1="401.4" x2="474.8" y2="407.0" stroke="#2a2a2a" stroke-width="0.9" />
<path d="M480.0,405.4 L484.8,408.6 L479.6,408.8 Z" fill="#333" stroke="#2a2a2a" stroke-width="0.8" stroke-linejoin="round" />
<path d="M432.0,380.5 L446.6,388.4" fill="none" stroke="#2e2e2e" stroke-width="1.3" stroke-dasharray="10 3.4 3 3.4"/>
<path d="M486.0,410.4 L493.0,414.4" fill="none" stroke="#333" stroke-width="1.1700000000000002" stroke-dasharray="3 1.5"/>
<path d="M488.6,399.4 L515.3,414.4 L515.3,439.4 L488.6,425.4 Z" fill="#fff" stroke="#2a2a2a" stroke-width="1.4" stroke-linejoin="round" />
<ellipse cx="493.1" cy="414.9" rx="2.4" ry="2.8" fill="#666" stroke="#2a2a2a" stroke-width="1.6"/>
<ellipse cx="499.6" cy="417.4" rx="1.3" ry="3.2" fill="none" stroke="#555" stroke-width="0.7" transform="rotate(-35 499.6 417.4)"/>
<ellipse cx="501.9" cy="419.1" rx="1.3" ry="3.2" fill="none" stroke="#555" stroke-width="0.7" transform="rotate(-35 501.9 419.1)"/>
<ellipse cx="504.2" cy="420.8" rx="1.3" ry="3.2" fill="none" stroke="#555" stroke-width="0.7" transform="rotate(-35 504.2 420.8)"/>
<ellipse cx="506.5" cy="422.5" rx="1.3" ry="3.2" fill="none" stroke="#555" stroke-width="0.7" transform="rotate(-35 506.5 422.5)"/>
<ellipse cx="508.8" cy="424.2" rx="1.3" ry="3.2" fill="none" stroke="#555" stroke-width="0.7" transform="rotate(-35 508.8 424.2)"/>
<ellipse cx="511.1" cy="425.9" rx="1.3" ry="3.2" fill="none" stroke="#555" stroke-width="0.7" transform="rotate(-35 511.1 425.9)"/>
<line x1="500.4" y1="432.0" x2="497.0" y2="441.8" stroke="#2a2a2a" stroke-width="1.45" />
<g><circle cx="495.9" cy="448.9" r="8.7" fill="#dcdcdc" stroke="#bdbdbd" stroke-width="0.8"/><circle cx="494.1" cy="449.4" r="7.6" fill="#e8e8e8" stroke="#2b2b2b" stroke-width="1.6"/><text x="488.4" y="453.2" font-size="10.6" fill="#383838" stroke="#383838" stroke-width="0.7" textLength="11.4" lengthAdjust="spacingAndGlyphs">14</text></g>
<line x1="535.7" y1="389.0" x2="532.4" y2="398.8" stroke="#2a2a2a" stroke-width="1.45" />
<g><circle cx="537.6" cy="378.7" r="8.7" fill="#dcdcdc" stroke="#bdbdbd" stroke-width="0.8"/><circle cx="538.6" cy="380.8" r="7.6" fill="#e8e8e8" stroke="#2b2b2b" stroke-width="1.6"/><text x="532.9" y="384.6" font-size="10.6" fill="#383838" stroke="#383838" stroke-width="0.7" textLength="11.4" lengthAdjust="spacingAndGlyphs">17</text></g>
<path d="M519.8,392.5 L547.3,406.9 L547.3,462.3 L519.8,447.4 Z" fill="#fff" stroke="#2a2a2a" stroke-width="1.4" stroke-linejoin="round" />
<g><circle cx="530.8" cy="410.6" r="8.7" fill="#dcdcdc" stroke="#bdbdbd" stroke-width="0.8"/><circle cx="532.8" cy="411.9" r="7.6" fill="#e8e8e8" stroke="#2b2b2b" stroke-width="1.6"/><text x="527.1" y="415.7" font-size="10.6" fill="#383838" stroke="#383838" stroke-width="0.7" textLength="11.4" lengthAdjust="spacingAndGlyphs">16</text></g>
<line x1="529.4" y1="419.2" x2="526.4" y2="428.4" stroke="#2a2a2a" stroke-width="1.3" />
<ellipse cx="525.3" cy="433.2" rx="2.9" ry="4.2" fill="none" stroke="#2a2a2a" stroke-width="1.0" transform="rotate(15 525.3 433.2)"/>
<path d="M529.8,436.4 L533.6,432.8 L538.8,434.6 L537.2,444.6 L532.6,442.6 L529.6,440.0 Z" fill="#2e2e2e" stroke="#2a2a2a" stroke-width="1.0" stroke-linejoin="round" />
<line x1="532.4" y1="434.6" x2="531.6" y2="441.4" stroke="#999" stroke-width="0.6" />
<line x1="534.6" y1="434.0" x2="533.8" y2="443.0" stroke="#999" stroke-width="0.6" />
<ellipse cx="538.4" cy="440.2" rx="3.6" ry="4.6" fill="#fff" stroke="#2a2a2a" stroke-width="1.3" transform="rotate(20 538.4 440.2)"/>
<ellipse cx="330.4" cy="521.4" rx="6.8" ry="3.5" fill="#fff" stroke="#222" stroke-width="1.9"/>
<path d="M327.3,521 L327.3,514.4 Q330.4,511 333.5,514.4 L333.5,521 Q330.4,523 327.3,521 Z" fill="#fff" stroke="#222" stroke-width="1.2"/>
<ellipse cx="330.4" cy="514.0" rx="2.3" ry="1.2" fill="#333" stroke="#2a2a2a" stroke-width="0.8"/>
<line x1="337.0" y1="519.8" x2="349.6" y2="518.8" stroke="#2a2a2a" stroke-width="1.45" />
<g><circle cx="358.2" cy="520.4" r="8.7" fill="#dcdcdc" stroke="#bdbdbd" stroke-width="0.8"/><circle cx="357.7" cy="518.8" r="7.6" fill="#e8e8e8" stroke="#2b2b2b" stroke-width="1.6"/><text x="352.0" y="522.6" font-size="10.6" fill="#383838" stroke="#383838" stroke-width="0.7" textLength="11.4" lengthAdjust="spacingAndGlyphs">29</text></g>
<ellipse cx="330.8" cy="535.1" rx="7.2" ry="2.6" fill="none" stroke="#333" stroke-width="1.1"/>
<path d="M323.6,535.1 Q330.8,539.8 338.0,535.1" fill="none" stroke="#999" stroke-width="1.7"/>
<ellipse cx="330.8" cy="539.3" rx="7.2" ry="2.6" fill="none" stroke="#333" stroke-width="1.1"/>
<path d="M323.6,539.3 Q330.8,544.0 338.0,539.3" fill="none" stroke="#999" stroke-width="1.7"/>
<ellipse cx="330.8" cy="543.6" rx="7.2" ry="2.6" fill="none" stroke="#333" stroke-width="1.1"/>
<path d="M323.6,543.6 Q330.8,548.2 338.0,543.6" fill="none" stroke="#999" stroke-width="1.7"/>
<ellipse cx="330.8" cy="547.8" rx="7.2" ry="2.6" fill="none" stroke="#333" stroke-width="1.1"/>
<path d="M323.6,547.8 Q330.8,552.5 338.0,547.8" fill="none" stroke="#999" stroke-width="1.7"/>
<ellipse cx="330.8" cy="552.0" rx="7.2" ry="2.6" fill="none" stroke="#333" stroke-width="1.1"/>
<path d="M323.6,552.0 Q330.8,556.7 338.0,552.0" fill="none" stroke="#999" stroke-width="1.7"/>
<ellipse cx="330.8" cy="556.3" rx="7.2" ry="2.6" fill="none" stroke="#333" stroke-width="1.1"/>
<path d="M323.6,556.3 Q330.8,560.9 338.0,556.3" fill="none" stroke="#999" stroke-width="1.7"/>
<ellipse cx="330.8" cy="560.5" rx="7.2" ry="2.6" fill="none" stroke="#333" stroke-width="1.1"/>
<path d="M323.6,560.5 Q330.8,565.1 338.0,560.5" fill="none" stroke="#999" stroke-width="1.7"/>
<line x1="310.5" y1="538.6" x2="324.0" y2="540.6" stroke="#2a2a2a" stroke-width="1.45" />
<g><circle cx="301.4" cy="538.3" r="8.7" fill="#dcdcdc" stroke="#bdbdbd" stroke-width="0.8"/><circle cx="302.4" cy="537.3" r="7.6" fill="#e8e8e8" stroke="#2b2b2b" stroke-width="1.6"/><text x="296.7" y="541.1" font-size="10.6" fill="#383838" stroke="#383838" stroke-width="0.7" textLength="11.4" lengthAdjust="spacingAndGlyphs">30</text></g>
<ellipse cx="330.2" cy="579.4" rx="6.4" ry="4" fill="#555" stroke="#2a2a2a" stroke-width="1.6"/>
<ellipse cx="330.2" cy="577.4" rx="5.6" ry="3.2" fill="#ddd" stroke="#2a2a2a" stroke-width="1.0"/>
<path d="M327.6,576.6 L327.6,571 Q330.2,568 332.8,571 L332.8,576.6 Q330.2,578.4 327.6,576.6 Z" fill="#fff" stroke="#222" stroke-width="1.0"/>
<ellipse cx="330.2" cy="570.6" rx="2" ry="1.1" fill="#444" stroke="#2a2a2a" stroke-width="0.8"/>
<line x1="337.0" y1="577.4" x2="355.6" y2="575.2" stroke="#2a2a2a" stroke-width="1.45" />
<g><circle cx="361.1" cy="572.6" r="8.7" fill="#dcdcdc" stroke="#bdbdbd" stroke-width="0.8"/><circle cx="363.7" cy="574.4" r="7.6" fill="#e8e8e8" stroke="#2b2b2b" stroke-width="1.6"/><text x="358.0" y="578.2" font-size="10.6" fill="#383838" stroke="#383838" stroke-width="0.7" textLength="11.4" lengthAdjust="spacingAndGlyphs">31</text></g>
<ellipse cx="330.6" cy="588.0" rx="6.8" ry="2.5" fill="none" stroke="#333" stroke-width="1.1"/>
<path d="M323.8,588.0 Q330.6,592.4 337.40000000000003,588.0" fill="none" stroke="#999" stroke-width="1.7"/>
<ellipse cx="330.6" cy="592.0" rx="6.8" ry="2.5" fill="none" stroke="#333" stroke-width="1.1"/>
<path d="M323.8,592.0 Q330.6,596.4 337.40000000000003,592.0" fill="none" stroke="#999" stroke-width="1.7"/>
<ellipse cx="330.6" cy="596.0" rx="6.8" ry="2.5" fill="none" stroke="#333" stroke-width="1.1"/>
<path d="M323.8,596.0 Q330.6,600.4 337.40000000000003,596.0" fill="none" stroke="#999" stroke-width="1.7"/>
<ellipse cx="330.6" cy="600.0" rx="6.8" ry="2.5" fill="none" stroke="#333" stroke-width="1.1"/>
<path d="M323.8,600.0 Q330.6,604.4 337.40000000000003,600.0" fill="none" stroke="#999" stroke-width="1.7"/>
<ellipse cx="330.6" cy="604.0" rx="6.8" ry="2.5" fill="none" stroke="#333" stroke-width="1.1"/>
<path d="M323.8,604.0 Q330.6,608.4 337.40000000000003,604.0" fill="none" stroke="#999" stroke-width="1.7"/>
<line x1="311.2" y1="594.0" x2="324.2" y2="596.6" stroke="#2a2a2a" stroke-width="1.45" />
<g><circle cx="304.1" cy="590.7" r="8.7" fill="#dcdcdc" stroke="#bdbdbd" stroke-width="0.8"/><circle cx="303.1" cy="592.5" r="7.6" fill="#e8e8e8" stroke="#2b2b2b" stroke-width="1.6"/><text x="297.4" y="596.3" font-size="10.6" fill="#383838" stroke="#383838" stroke-width="0.7" textLength="11.4" lengthAdjust="spacingAndGlyphs">32</text></g>
<ellipse cx="330.6" cy="619.6" rx="9.2" ry="5.8" fill="#777" stroke="#2a2a2a" stroke-width="2.2"/>
<ellipse cx="330.6" cy="617.6" rx="8.6" ry="5" fill="#fff" stroke="#2a2a2a" stroke-width="1.2"/>
<ellipse cx="330.6" cy="618.0" rx="5.2" ry="2.8" fill="#ccc" stroke="#2a2a2a" stroke-width="0.9"/>
<line x1="326.0" y1="617.6" x2="335.0" y2="617.6" stroke="#2a2a2a" stroke-width="0.8" />
<line x1="340.4" y1="617.4" x2="356.2" y2="616.0" stroke="#2a2a2a" stroke-width="1.2" />
<g><circle cx="365.2" cy="617.4" r="8.7" fill="#dcdcdc" stroke="#bdbdbd" stroke-width="0.8"/><circle cx="364.4" cy="615.6" r="7.6" fill="#e8e8e8" stroke="#2b2b2b" stroke-width="1.6"/><text x="358.7" y="619.4" font-size="10.6" fill="#383838" stroke="#383838" stroke-width="0.7" textLength="11.4" lengthAdjust="spacingAndGlyphs">33</text></g>
<rect x="248.4" y="254" width="288.2" height="132.4" fill="#fff" opacity="0.72"/>
<rect x="272" y="254" width="239" height="132.4" fill="#fff"/>
<defs><clipPath id="gtop"><path d="M265,250 L350,250 L350,326 Q310,327 268,340 Z"/></clipPath><clipPath id="gbot"><path d="M270,352 Q300,340 330,336 L330,372 L270,372 Z"/></clipPath></defs>
<g clip-path="url(#gtop)"><path d="M338.6,322.7 L343.7,324.3 L343.7,328.6 L338.6,330.2 L337.6,334.8 L341.8,338.3 L340.1,342.3 L334.7,341.8 L332.1,345.7 L334.6,350.5 L331.6,353.5 L326.8,351.0 L322.9,353.6 L323.3,359.0 L319.4,360.6 L315.9,356.5 L311.3,357.4 L309.7,362.5 L305.4,362.5 L303.8,357.4 L299.2,356.4 L295.7,360.6 L291.7,358.9 L292.2,353.5 L288.3,350.9 L283.5,353.4 L280.5,350.4 L283.0,345.6 L280.4,341.7 L275.0,342.1 L273.4,338.2 L277.5,334.7 L276.6,330.1 L271.5,328.5 L271.5,324.2 L276.6,322.6 L277.6,318.0 L273.4,314.5 L275.1,310.5 L280.5,311.0 L283.1,307.1 L280.6,302.3 L283.6,299.3 L288.4,301.8 L292.3,299.2 L291.9,293.8 L295.8,292.2 L299.3,296.3 L303.9,295.4 L305.5,290.3 L309.8,290.3 L311.4,295.4 L316.0,296.4 L319.5,292.2 L323.5,293.9 L323.0,299.3 L326.9,301.9 L331.7,299.4 L334.7,302.4 L332.2,307.2 L334.8,311.1 L340.2,310.7 L341.8,314.6 L337.7,318.1 Z M327.6,323.5 A22.6,22.6 0 1 0 282.4,323.5 A22.6,22.6 0 1 0 327.6,323.5 Z" fill="#b0b0b0" fill-rule="evenodd"/></g>
<g clip-path="url(#gbot)"><path d="M338.6,322.7 L343.7,324.3 L343.7,328.6 L338.6,330.2 L337.6,334.8 L341.8,338.3 L340.1,342.3 L334.7,341.8 L332.1,345.7 L334.6,350.5 L331.6,353.5 L326.8,351.0 L322.9,353.6 L323.3,359.0 L319.4,360.6 L315.9,356.5 L311.3,357.4 L309.7,362.5 L305.4,362.5 L303.8,357.4 L299.2,356.4 L295.7,360.6 L291.7,358.9 L292.2,353.5 L288.3,350.9 L283.5,353.4 L280.5,350.4 L283.0,345.6 L280.4,341.7 L275.0,342.1 L273.4,338.2 L277.5,334.7 L276.6,330.1 L271.5,328.5 L271.5,324.2 L276.6,322.6 L277.6,318.0 L273.4,314.5 L275.1,310.5 L280.5,311.0 L283.1,307.1 L280.6,302.3 L283.6,299.3 L288.4,301.8 L292.3,299.2 L291.9,293.8 L295.8,292.2 L299.3,296.3 L303.9,295.4 L305.5,290.3 L309.8,290.3 L311.4,295.4 L316.0,296.4 L319.5,292.2 L323.5,293.9 L323.0,299.3 L326.9,301.9 L331.7,299.4 L334.7,302.4 L332.2,307.2 L334.8,311.1 L340.2,310.7 L341.8,314.6 L337.7,318.1 Z" fill="#9c9c9c"/></g>
<path d="M296,348 Q328,334 346,333 Q348.4,335.6 346,338.2 Q330,339 308,348 Z" fill="#9c9c9c"/>
<path d="M274.6,336.6 Q320,325.4 386.4,325.4 L386.4,329.2 Q330,330 281.6,352.8 Q276,345 274.6,336.6 Z" fill="#c6c6c6"/>
<path d="M275.4,339.4 Q320,328.8 386,326.4" fill="none" stroke="#fff" stroke-width="0.9"/>
<path d="M276.6,342.4 Q320,332.3 386,327.0" fill="none" stroke="#fff" stroke-width="0.9"/>
<path d="M277.8,345.6 Q320,336.0 386,327.4" fill="none" stroke="#fff" stroke-width="0.9"/>
<path d="M279.0,348.8 Q320,339.7 386,327.8" fill="none" stroke="#fff" stroke-width="0.9"/>
<path d="M360,326.4 L386.4,325.6 L386.4,330 L360,331 Z" fill="#c4c4c4"/>
<g>
<path d="M448.6,255.5 L471.5,268.6 L471.5,290.4 L448.6,280.6 Z" fill="#dadada" stroke="none" stroke-width="0" stroke-linejoin="round" />
<line x1="450.7" y1="257.7" x2="450.7" y2="280.8" stroke="#f4f4f4" stroke-width="0.7" />
<line x1="452.8" y1="258.9" x2="452.8" y2="281.7" stroke="#f4f4f4" stroke-width="0.7" />
<line x1="454.8" y1="260.1" x2="454.8" y2="282.6" stroke="#f4f4f4" stroke-width="0.7" />
<line x1="456.9" y1="261.3" x2="456.9" y2="283.5" stroke="#f4f4f4" stroke-width="0.7" />
<line x1="459.0" y1="262.4" x2="459.0" y2="284.4" stroke="#f4f4f4" stroke-width="0.7" />
<line x1="461.1" y1="263.6" x2="461.1" y2="285.3" stroke="#f4f4f4" stroke-width="0.7" />
<line x1="463.2" y1="264.8" x2="463.2" y2="286.2" stroke="#f4f4f4" stroke-width="0.7" />
<line x1="465.2" y1="266.0" x2="465.2" y2="287.1" stroke="#f4f4f4" stroke-width="0.7" />
<line x1="467.3" y1="267.2" x2="467.3" y2="288.0" stroke="#f4f4f4" stroke-width="0.7" />
<line x1="469.4" y1="268.4" x2="469.4" y2="288.9" stroke="#f4f4f4" stroke-width="0.7" />
<path d="M404.8,265.6 L418.9,271.5 L415.9,278.4 L404.8,278.1 Z" fill="#dadada" stroke="none" stroke-width="0" stroke-linejoin="round" />
<line x1="405.4" y1="268.4" x2="416.6" y2="273.2" stroke="#fafafa" stroke-width="0.8" />
<line x1="405.4" y1="271.0" x2="416.0" y2="275.4" stroke="#fafafa" stroke-width="0.8" />
<line x1="405.4" y1="273.6" x2="415.4" y2="277.4" stroke="#fafafa" stroke-width="0.8" />
<path d="M415.9,278.1 L423.3,271.5 L433.7,270.7 L438.1,273.7 L447.0,272.2 L447.0,283.0 L415.9,280.0 Z" fill="#dedede" stroke="none" stroke-width="0" stroke-linejoin="round" />
<path d="M387.0,282.6 L392.0,281.0 L433.6,281.6 L434.6,285.2 L388.4,286.6 Z" fill="#e2e2e2" stroke="none" stroke-width="0" stroke-linejoin="round" />
<path d="M401.9,291.5 L414.4,286.6 L420.4,315.2 L401.9,315.2 Z" fill="#dcdcdc" stroke="none" stroke-width="0" stroke-linejoin="round" />
<path d="M418.9,286.6 L431.5,287.8 L427.0,315.9 L422.6,315.9 Z" fill="#dcdcdc" stroke="none" stroke-width="0" stroke-linejoin="round" />
<path d="M393,289.6 L416,285.4 L422,316.4 L394.4,317.4 Z" fill="none" stroke="#dedede" stroke-width="1.2"/>
<path d="M417.6,285.4 L433.2,286.6 L428.4,317 L423,317.2 Z" fill="none" stroke="#dedede" stroke-width="1.2"/>
<path d="M435.2,285.6 L450.0,288.0 L450.0,316.7 L433.0,317.4 Z" fill="#e0e0e0" stroke="none" stroke-width="0" stroke-linejoin="round" />
<path d="M375.2,298.9 L375.9,293 L392.2,290" fill="none" stroke="#dedede" stroke-width="2"/>
<path d="M392.2,290 L393.7,319.6" fill="none" stroke="#dedede" stroke-width="1.6"/>
<path d="M388.5,319.6 L427.8,319.0 L427.8,322.6 L388.5,323.0 Z" fill="#dedede" stroke="none" stroke-width="0" stroke-linejoin="round" />
<path d="M436.0,281.4 L446.4,283.0 L471.5,290.4 L498.0,300.6 L502.4,306.2 L502.0,312.6 L496.6,313.2 L493.4,324.6 L478.0,330.6 L452.0,333.6 L434.0,321.0 Z" fill="#e1e1e1" stroke="none" stroke-width="0" stroke-linejoin="round" />
<path d="M457,292.8 L497,304.6 L499,309.6" fill="none" stroke="#f4f4f4" stroke-width="1.2"/>
<path d="M441,296 L489,308.6 L490,320" fill="none" stroke="#f6f6f6" stroke-width="1.0"/>
<path d="M438,305 L486,319" fill="none" stroke="#f6f6f6" stroke-width="0.9"/>
<path d="M424.0,322.0 L448.0,323.0 L449.0,335.0 L482.0,331.0 L492.0,336.0 L470.0,341.0 L424.0,340.0 Z" fill="#e0e0e0" stroke="none" stroke-width="0" stroke-linejoin="round" />
<ellipse cx="499.4" cy="357" rx="9.6" ry="24.6" fill="#dedede" transform="rotate(24 499.4 357)"/>
<ellipse cx="495" cy="357.6" rx="6.6" ry="21" fill="#e9e9e9" transform="rotate(24 495 357.6)"/>
<path d="M470.0,341.0 L492.0,336.0 L501.6,338.6 L486.0,368.0 L480.0,381.6 L458.0,378.6 L452.0,372.0 Z" fill="#e0e0e0" stroke="none" stroke-width="0" stroke-linejoin="round" />
<path d="M396.0,366.0 L456.0,372.0 L478.0,380.6 L476.0,383.4 L430.0,377.0 L396.0,370.0 Z" fill="#e4e4e4" stroke="none" stroke-width="0" stroke-linejoin="round" />
<path d="M478,344 L462,376" fill="none" stroke="#f6f6f6" stroke-width="1.2"/>
<path d="M488,341 L470,379" fill="none" stroke="#f6f6f6" stroke-width="1.2"/>
</g>
<text class="wm" x="390" y="334.4" font-size="16" fill="#8e8e8e" textLength="34.6" lengthAdjust="spacingAndGlyphs">ООО</text>
<text class="wm" x="310.4" y="364.9" font-size="33.2" font-weight="bold" fill="#9d9d9d" stroke="#fff" stroke-width="2" paint-order="stroke" textLength="182.4" lengthAdjust="spacingAndGlyphs">АГРОСНАБ</text>
</g>
</svg>
</body></html>
